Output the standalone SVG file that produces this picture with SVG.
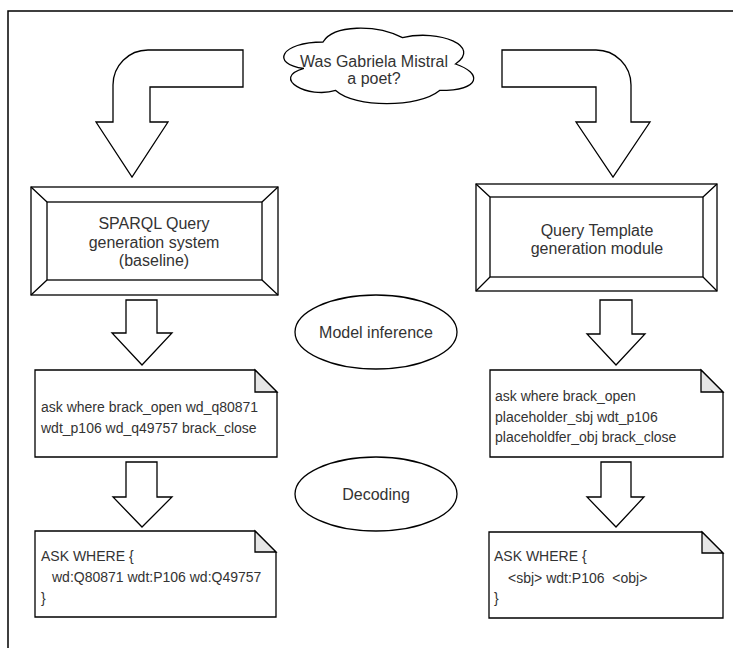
<svg xmlns="http://www.w3.org/2000/svg" width="733" height="648" viewBox="0 0 733 648">
  <style>
    .ln { fill: #ffffff; stroke: #000000; stroke-width: 1.3; stroke-linejoin: miter; }
    .fold { fill: #e6e6e6; stroke: #000000; stroke-width: 1.3; }
    .lbl { font-family: "Liberation Sans", Arial, sans-serif; font-size: 16px; fill: #333333; text-anchor: middle; }
    .code { font-family: "Liberation Sans", Arial, sans-serif; font-size: 14px; fill: #333333; }
  </style>

  <!-- outer frame -->
  <rect x="8" y="11" width="740" height="660" fill="#ffffff" stroke="#000000" stroke-width="1.5"/>

  <!-- question cloud -->
  <g id="question">
    <path class="ln" d="M 323 42 C 280.6 42 270 64 303.9 68.4 C 270 78.1 308.2 99.2 335.7 90.4 C 354.8 108 418.4 108 439.6 90.4 C 482 90.4 482 72.8 455.5 64 C 482 46.4 439.6 28.8 402.5 37.6 C 376 24.4 333.6 24.4 323 42 Z"/>
    <text class="lbl" x="374" y="67">Was Gabriela Mistral</text>
    <text class="lbl" x="374" y="84">a poet?</text>
  </g>

  <!-- connectors: block arrows -->
  <g id="connectors">
    <path class="ln" d="M 243 50 L 148 50 A 35 35 0 0 0 113 85 L 113 122 L 96 122 L 132 177 L 168 122 L 150 122 L 150 87 L 243 87 Z"/>
    <path class="ln" d="M 502 50 L 596 50 A 35 35 0 0 1 631 85 L 631 122 L 650 122 L 613 177 L 576 122 L 596 122 L 596 87 L 502 87 Z"/>
    <path class="ln" d="M 126 300 L 157 300 L 157 333 L 172 333 L 142 365 L 112 333 L 126 333 Z"/>
    <path class="ln" d="M 126 462 L 157 462 L 157 497 L 172 497 L 142 527 L 113 497 L 126 497 Z"/>
    <path class="ln" d="M 600 300 L 632 300 L 632 334 L 645 334 L 616 365 L 587 334 L 600 334 Z"/>
    <path class="ln" d="M 601 462 L 631 462 L 631 497 L 644 497 L 616 527 L 587 497 L 601 497 Z"/>
  </g>

  <!-- baseline system -->
  <g id="baseline-system">
    <rect class="ln" x="31" y="187" width="247" height="108"/>
    <rect class="ln" x="47" y="202" width="215" height="78"/>
    <path class="ln" d="M 31 187 L 47 202 M 278 187 L 262 202 M 31 295 L 47 280 M 278 295 L 262 280"/>
    <text class="lbl" x="154" y="229">SPARQL Query</text>
    <text class="lbl" x="154" y="248">generation system</text>
    <text class="lbl" x="154" y="266">(baseline)</text>
  </g>

  <!-- template module -->
  <g id="template-module">
    <rect class="ln" x="476" y="184" width="241" height="107"/>
    <rect class="ln" x="490" y="197" width="213" height="80"/>
    <path class="ln" d="M 476 184 L 490 197 M 717 184 L 703 197 M 476 291 L 490 277 M 717 291 L 703 277"/>
    <text class="lbl" x="597" y="236">Query Template</text>
    <text class="lbl" x="597" y="254">generation module</text>
  </g>

  <!-- step labels -->
  <g id="model-inference">
    <ellipse class="ln" cx="376" cy="332" rx="81" ry="37"/>
    <text class="lbl" x="376" y="338">Model inference</text>
  </g>
  <g id="decoding">
    <ellipse class="ln" cx="376" cy="494" rx="81" ry="37"/>
    <text class="lbl" x="376" y="500">Decoding</text>
  </g>

  <!-- baseline token output -->
  <g id="baseline-tokens">
    <path class="ln" d="M 35 370 L 255 370 L 277 392 L 277 457 L 35 457 Z"/>
    <path class="fold" d="M 255 370 L 255 392 L 277 392 Z"/>
    <text class="code" x="41" y="412">ask where brack_open wd_q80871</text>
    <text class="code" x="41" y="433">wdt_p106 wd_q49757 brack_close</text>
  </g>

  <!-- template token output -->
  <g id="template-tokens">
    <path class="ln" d="M 490 370 L 701 370 L 723 392 L 723 457 L 490 457 Z"/>
    <path class="fold" d="M 701 370 L 701 392 L 723 392 Z"/>
    <text class="code" x="495" y="401">ask where brack_open</text>
    <text class="code" x="495" y="422">placeholder_sbj wdt_p106</text>
    <text class="code" x="495" y="442">placeholdfer_obj brack_close</text>
  </g>

  <!-- baseline decoded query -->
  <g id="baseline-query">
    <path class="ln" d="M 35 531 L 255 531 L 276 552 L 276 617 L 35 617 Z"/>
    <path class="fold" d="M 255 531 L 255 552 L 276 552 Z"/>
    <text class="code" x="41" y="561">ASK WHERE {</text>
    <text class="code" x="52" y="582">wd:Q80871 wdt:P106 wd:Q49757</text>
    <text class="code" x="41" y="603">}</text>
  </g>

  <!-- template decoded query -->
  <g id="template-query">
    <path class="ln" d="M 489 532 L 702 532 L 723 553 L 723 618 L 489 618 Z"/>
    <path class="fold" d="M 702 532 L 702 553 L 723 553 Z"/>
    <text class="code" x="494" y="561">ASK WHERE {</text>
    <text class="code" x="508" y="583" xml:space="preserve">&lt;sbj&gt; wdt:P106  &lt;obj&gt;</text>
    <text class="code" x="494" y="603">}</text>
  </g>
</svg>
